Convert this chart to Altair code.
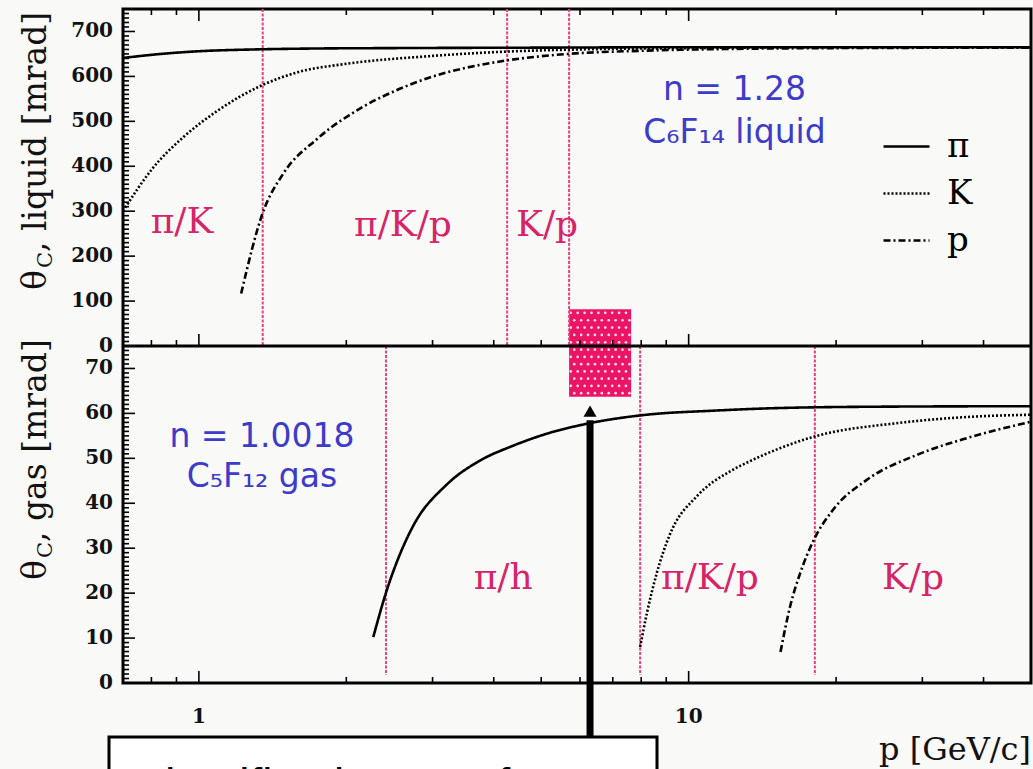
import altair as alt
import numpy as np
import pandas as pd

# ---- Cherenkov angle vs momentum: liquid radiator C6F14 (n = 1.28) ----
liq_pi_p = [0.7, 0.8, 1.0, 1.3, 1.7, 2.5, 5, 10, 50]
liq_pi_th = [641, 648, 656, 660, 662, 663, 664, 665, 665]
liq_k_p = [0.70, 0.75, 0.80, 0.93, 1.09, 1.35, 1.6, 2.0, 2.95, 4.2, 6, 10, 20, 50]
liq_k_th = [300, 350, 392, 465, 523, 581, 610, 628, 645, 655, 660, 663, 665, 665]
liq_pr_p = [1.22, 1.35, 1.49, 1.74, 1.85, 2.03, 2.16, 2.53, 2.95, 3.44, 4.22, 5.66, 8, 12, 20, 50]
liq_pr_th = [117, 296, 385, 460, 484, 514, 532, 569, 597, 617, 635, 650, 657, 661, 663, 664]

# ---- gas radiator C5F12 (n = 1.0018) ----
gas_pi_p = [2.27, 2.42, 2.57, 2.74, 3.21, 3.75, 4.38, 5.14, 6.2, 8.2, 11.2, 15.4, 25, 50]
gas_pi_th = [10.2, 20.7, 28.5, 35.0, 44.2, 49.5, 52.8, 55.5, 57.7, 59.7, 60.6, 61.2, 61.5, 61.6]
gas_k_p = [7.96, 8.22, 8.61, 9.15, 10.4, 12.1, 13.3, 15.4, 18.0, 27, 37, 49.8]
gas_k_th = [8.0, 15.6, 24.5, 33.0, 41.6, 47.0, 49.3, 52.3, 54.8, 57.9, 59.2, 59.7]
gas_pr_p = [15.4, 16.1, 16.9, 18.0, 19.7, 23.1, 29.3, 37, 49.8]
gas_pr_th = [6.9, 16.9, 24.5, 31.8, 38.5, 45.2, 50.8, 54.5, 58.1]

particles = ["π", "K", "p"]

# momentum boundaries of the identification regions
liq_cuts = [1.35, 4.26, 5.70]
gas_cuts = [2.41, 7.96, 18.1]

liq_region_text = ["π/K", "π/K/p", "K/p"]
liq_region_p = [0.924, 2.61, 5.14]
liq_region_th = [276, 269, 269]
gas_region_text = ["π/h", "π/K/p", "K/p"]
gas_region_p = [4.18, 11.05, 28.7]
gas_region_th = [23.4, 23.4, 23.4]

liq_info_text = ["n = 1.28", "C₆F₁₄ liquid"]
liq_info_p = [12.4, 12.4]
liq_info_th = [570, 474]
gas_info_text = ["n = 1.0018", "C₅F₁₂ gas"]
gas_info_p = [1.345, 1.345]
gas_info_th = [54.8, 45.9]

# kaon identification gap
gap_p = [5.70, 7.63]
gap_liq_th = [0, 82]
gap_gas_th = [63.7, 75]
gap_arrow_p = 6.29
gap_arrow_th = [-12, 60.5]

# axis ticks
p_major = [1, 10]
p_major_labels = ["1", "10"]
p_minor = [0.8, 0.9, 2, 3, 4, 5, 6, 7, 8, 9, 20, 30, 40]
liq_major = list(range(0, 701, 100))
liq_minor = [v for v in range(10, 751, 10) if v % 100]
gas_major = list(range(0, 71, 10))
gas_minor = [v for v in range(1, 76) if v % 10]

W, H = 908, 674
HALF = H // 2

MAGENTA = "#d62468"
CUT = "#e2447f"
PINK = "#ec1464"
BLUE = "#3c3cc8"
SERIF = "DejaVu Serif"
SANS = "DejaVu Sans"

XS = alt.Scale(type="log", domain=[0.7, 50], nice=False)
LIQ = alt.Scale(domain=[0, 750], range=[HALF, 0], nice=False, zero=False)
GAS = alt.Scale(domain=[0, 75], range=[H, HALF], nice=False, zero=False)


def X(f):
    return alt.X(f, type="quantitative", scale=XS, axis=None)


def Y(f, sc):
    return alt.Y(f, type="quantitative", scale=sc, axis=None)


def note(text, x, y, **style):
    return (
        alt.Chart(pd.DataFrame({"t": [text]}))
        .mark_text(**style)
        .encode(text="t:N", x=alt.value(x), y=alt.value(y))
    )


def curves(ps, ths):
    return pd.concat(
        [pd.DataFrame({"p": p, "theta": t, "particle": n}) for p, t, n in zip(ps, ths, particles)]
    )


dash = alt.StrokeDash(
    "particle:N",
    scale=alt.Scale(domain=particles, range=[[1, 0], [2, 2], [7, 3, 2, 3]]),
    legend=alt.Legend(
        title=None, orient="none", legendX=759, legendY=113,
        symbolType="stroke", symbolSize=2116, symbolStrokeWidth=2.5,
        symbolStrokeColor="black", labelFont=SERIF, labelFontSize=34,
        labelColor="black", labelOffset=16, rowPadding=5, padding=0,
    ),
)

liq_df = curves([liq_pi_p, liq_k_p, liq_pr_p], [liq_pi_th, liq_k_th, liq_pr_th])
gas_df = curves([gas_pi_p, gas_k_p, gas_pr_p], [gas_pi_th, gas_k_th, gas_pr_th])

liq_lines = alt.Chart(liq_df).mark_line(color="black", strokeWidth=2.6, interpolate="monotone").encode(
    x=X("p"), y=Y("theta", LIQ), strokeDash=dash
)
gas_lines = alt.Chart(gas_df).mark_line(color="black", strokeWidth=2.6, interpolate="monotone").encode(
    x=X("p"), y=Y("theta", GAS), strokeDash=dash
)

# region boundaries
liq_cut_rules = alt.Chart(pd.DataFrame({"p": liq_cuts})).mark_rule(
    color=CUT, strokeWidth=2, strokeDash=[3, 1.5]
).encode(x=X("p"), y=alt.Y(datum=750, scale=LIQ, axis=None, type="quantitative"), y2=alt.Y2(datum=0))
gas_cut_rules = alt.Chart(pd.DataFrame({"p": gas_cuts})).mark_rule(
    color=CUT, strokeWidth=2, strokeDash=[3, 1.5]
).encode(x=X("p"), y=alt.Y(datum=75, scale=GAS, axis=None, type="quantitative"), y2=alt.Y2(datum=1.8))

# gap box spanning both panels, with a dotted texture
gap_liq_box = alt.Chart(pd.DataFrame({"a": [gap_p[0]], "b": [gap_p[1]], "lo": [gap_liq_th[0]], "hi": [gap_liq_th[1]]})).mark_rect(
    color=PINK
).encode(x=X("a"), x2="b", y=Y("lo", LIQ), y2="hi")
gap_gas_box = alt.Chart(pd.DataFrame({"a": [gap_p[0]], "b": [gap_p[1]], "lo": [gap_gas_th[0]], "hi": [gap_gas_th[1]]})).mark_rect(
    color=PINK
).encode(x=X("a"), x2="b", y=Y("lo", GAS), y2="hi")

ncol = 9
lp = np.log10(gap_p)
step = (lp[1] - lp[0]) / ncol


def dot_grid(lo, hi, nrow, first_row):
    rows = []
    for r in range(nrow):
        th = hi - (r + 0.5) * (hi - lo) / nrow
        shift = 0.5 if (r + first_row) % 2 else 0.0
        for c in range(ncol):
            pos = lp[0] + (c + 0.25 + shift) * step
            if pos < lp[1]:
                rows.append({"p": 10 ** pos, "theta": th})
    return pd.DataFrame(rows)


liq_dots = alt.Chart(dot_grid(gap_liq_th[0], gap_liq_th[1], 5, 0)).mark_circle(
    color="white", size=7, opacity=0.85
).encode(x=X("p"), y=Y("theta", LIQ))
gas_dots = alt.Chart(dot_grid(gap_gas_th[0], gap_gas_th[1], 7, 1)).mark_circle(
    color="white", size=7, opacity=0.85
).encode(x=X("p"), y=Y("theta", GAS))

# region and radiator labels
liq_regions = alt.Chart(pd.DataFrame({"p": liq_region_p, "theta": liq_region_th, "t": liq_region_text})).mark_text(
    font=SERIF, fontSize=36, color=MAGENTA
).encode(x=X("p"), y=Y("theta", LIQ), text="t:N")
gas_regions = alt.Chart(pd.DataFrame({"p": gas_region_p, "theta": gas_region_th, "t": gas_region_text})).mark_text(
    font=SERIF, fontSize=36, color=MAGENTA
).encode(x=X("p"), y=Y("theta", GAS), text="t:N")
liq_info = alt.Chart(pd.DataFrame({"p": liq_info_p, "theta": liq_info_th, "t": liq_info_text})).mark_text(
    font=SANS, fontSize=33, color=BLUE
).encode(x=X("p"), y=Y("theta", LIQ), text="t:N")
gas_info = alt.Chart(pd.DataFrame({"p": gas_info_p, "theta": gas_info_th, "t": gas_info_text})).mark_text(
    font=SANS, fontSize=33, color=BLUE
).encode(x=X("p"), y=Y("theta", GAS), text="t:N")

# inward-pointing ticks on the frames
tick_layers = []
for vals, sc, size in [(liq_major, LIQ, 12), (liq_minor, LIQ, 6), (gas_major, GAS, 12), (gas_minor, GAS, 6)]:
    tick_layers.append(
        alt.Chart(pd.DataFrame({"v": vals})).mark_rule(color="black", strokeWidth=1.6).encode(
            y=Y("v", sc), x=alt.value(0), x2=alt.value(size)
        )
    )
for vals, size in [(p_major, 12), (p_minor, 6)]:
    for base, sign in [(H, -1), (HALF, -1), (0, 1)]:
        tick_layers.append(
            alt.Chart(pd.DataFrame({"v": vals})).mark_rule(color="black", strokeWidth=1.6).encode(
                x=X("v"), y=alt.value(base), y2=alt.value(base + sign * size)
            )
        )

label_style = dict(font=SERIF, fontSize=20, fontWeight="bold", color="#111111")
liq_tick_labels = alt.Chart(pd.DataFrame({"v": liq_major})).mark_text(align="right", baseline="middle", **label_style).encode(
    y=Y("v", LIQ), x=alt.value(-10), text="v:Q"
)
gas_tick_labels = alt.Chart(pd.DataFrame({"v": gas_major})).mark_text(align="right", baseline="middle", **label_style).encode(
    y=Y("v", GAS), x=alt.value(-10), text="v:Q"
)
p_tick_labels = alt.Chart(pd.DataFrame({"v": p_major, "t": p_major_labels})).mark_text(baseline="middle", **label_style).encode(
    x=X("v"), y=alt.value(H + 34), text="t:N"
)

middle_line = alt.Chart(pd.DataFrame({"v": [0]})).mark_rule(color="black", strokeWidth=3).encode(
    y=Y("v", LIQ), x=alt.value(0), x2=alt.value(W)
)

title_style = dict(font=SERIF, color="#111111", angle=270, align="left", baseline="middle")
titles = [
    note("θ", -87, 281, fontSize=33, **title_style),
    note("C", -77, 259, fontSize=21, **title_style),
    note(", liquid [mrad]", -87, 243, fontSize=33, **title_style),
    note("θ", -87, 571, fontSize=33, **title_style),
    note("C", -77, 549, fontSize=21, **title_style),
    note(", gas [mrad]", -87, 533, fontSize=33, **title_style),
    note("p [GeV/c]", W, H + 67, font=SERIF, fontSize=32, color="#111111", align="right", baseline="middle"),
]

# arrow pointing at the gap, and the caption box below the axis
arrow = alt.Chart(pd.DataFrame({"p": [gap_arrow_p], "a": [gap_arrow_th[0]], "b": [gap_arrow_th[1] - 2]})).mark_rule(
    color="black", strokeWidth=7
).encode(x=X("p"), y=Y("a", GAS), y2="b")
arrow_head = alt.Chart(pd.DataFrame({"p": [gap_arrow_p], "theta": [gap_arrow_th[1]]})).mark_point(
    shape="triangle-up", filled=True, color="black", size=170, opacity=1
).encode(x=X("p"), y=Y("theta", GAS))

caption_box = alt.Chart(pd.DataFrame({"v": [0]})).mark_rect(
    fill="white", stroke="black", strokeWidth=3
).encode(x=alt.value(-14), x2=alt.value(534), y=alt.value(728), y2=alt.value(810))
caption = note("Identification gap for K !", 14, 792, font="Liberation Sans", fontSize=46,
               color="black", align="left", baseline="alphabetic")

chart = alt.layer(
    gap_liq_box, gap_gas_box, liq_dots, gas_dots,
    liq_cut_rules, gas_cut_rules,
    liq_lines, gas_lines,
    liq_regions, gas_regions, liq_info, gas_info,
    *tick_layers, middle_line,
    liq_tick_labels, gas_tick_labels, p_tick_labels,
    *titles,
    caption_box, arrow, arrow_head, caption,
).resolve_scale(y="independent").properties(
    width=W, height=H,
    autosize=alt.AutoSizeParams(type="none"),
    padding={"left": 123, "top": 9, "right": 2, "bottom": 86},
    background="#f9f9f7",
).configure_view(stroke="black", strokeWidth=3)

chart.save("out.html", embed_options={"renderer": "svg", "actions": False})
